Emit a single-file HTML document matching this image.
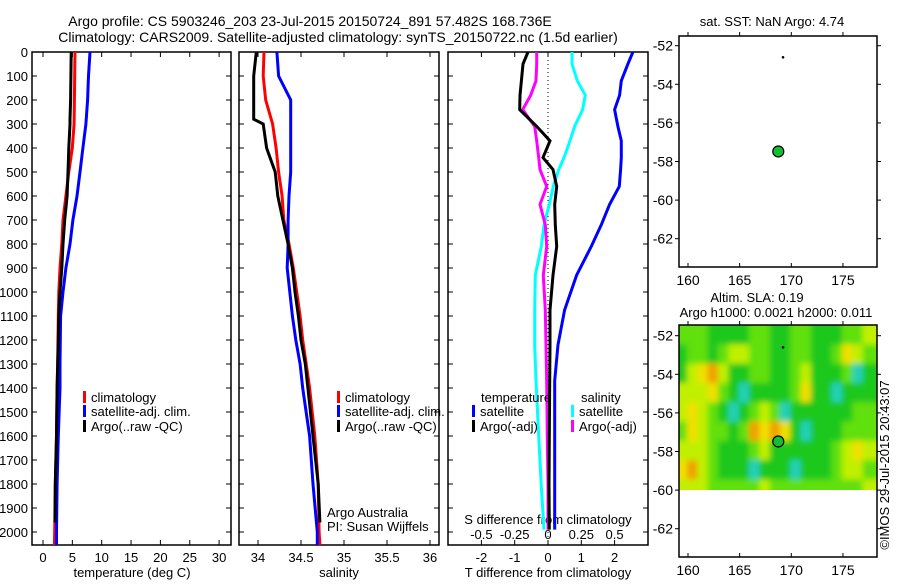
<!DOCTYPE html>
<html><head><meta charset="utf-8"><style>
body{margin:0;background:#fff;width:900px;height:580px;overflow:hidden}
svg{font-family:"Liberation Sans",sans-serif;font-size:13px}
</style></head><body>
<svg id="c" width="900" height="580" viewBox="0 0 900 580">
<defs>
<clipPath id="hmclip"><rect x="679" y="325" width="198" height="165"/></clipPath>
<filter id="blur" x="-10%" y="-10%" width="120%" height="120%"><feGaussianBlur stdDeviation="3"/></filter>
</defs>
<text x="310" y="26" text-anchor="middle" font-size="14">Argo profile: CS 5903246_203 23-Jul-2015 20150724_891 57.482S 168.736E</text>
<text x="338" y="42" text-anchor="middle" font-size="14">Climatology: CARS2009. Satellite-adjusted climatology: synTS_20150722.nc (1.5d earlier)</text>
<g id="g"></g>
<text x="772" y="26" text-anchor="middle" font-size="13">sat. SST: NaN Argo: 4.74</text>
<text x="757" y="302" text-anchor="middle" font-size="13">Altim. SLA: 0.19</text>
<text x="776" y="317" text-anchor="middle" font-size="13">Argo h1000: 0.0021 h2000: 0.011</text>
<text transform="translate(889,465) rotate(-90)" text-anchor="middle" font-size="13">©IMOS 29-Jul-2015 20:43:07</text>
</svg>
<script>
// ---------- data ----------
const depthT=[0,100,200,300,400,500,600,700,800,900,1000,1100,1200,1300,1400,1600,1800,2000,2054];
const tempClim=[5.45,5.4,5.35,5.3,5.0,4.4,3.9,3.4,3.2,2.9,2.7,2.6,2.55,2.5,2.4,2.3,2.1,2.0,1.95];
const tempSat=[8.0,7.75,7.6,7.3,6.8,6.3,5.8,5.1,4.6,3.9,3.4,3.0,2.95,2.9,2.9,2.6,2.4,2.3,2.3];
const depthArgo=[0,100,200,280,300,400,500,600,700,800,900,1000,1100,1200,1300,1400,1600,1800,1960];
const tempArgo=[4.8,4.75,4.7,4.6,4.6,4.4,4.26,4.1,3.7,3.4,3.2,2.9,2.7,2.6,2.5,2.4,2.3,2.1,2.05];
const salClim=[34.07,34.06,34.09,34.17,34.21,34.24,34.28,34.3,34.36,34.41,34.45,34.49,34.52,34.56,34.6,34.66,34.7,34.71,34.72];
const salSat=[34.22,34.24,34.38,34.38,34.38,34.38,34.36,34.35,34.35,34.34,34.37,34.4,34.44,34.49,34.52,34.6,34.64,34.69,34.69];
const salArgo=[33.98,33.95,33.95,33.95,34.06,34.1,34.2,34.23,34.29,34.35,34.4,34.43,34.47,34.5,34.55,34.58,34.64,34.7,34.72];
const depthD=[0,50,120,180,240,310,370,440,490,560,635,720,810,930,1075,1220,1370,1600,1810,1990];
const dTsat=[2.55,2.4,2.2,2.15,2.0,2.1,2.2,2.2,2.18,2.14,1.85,1.6,1.3,0.86,0.5,0.3,0.2,0.2,0.2,0.2];
const dTargo=[-0.6,-0.75,-0.8,-0.84,-0.85,-0.34,0.06,-0.15,0.15,0.26,0.2,0.22,0.26,0.15,0.06,0.06,0.05,0.04,0.03,0.04];
const dSsat=[0.18,0.18,0.22,0.28,0.26,0.2,0.165,0.12,0.08,0.04,0.01,-0.03,-0.05,-0.095,-0.1,-0.1,-0.09,-0.07,-0.05,-0.03];
const dSargo=[-0.085,-0.085,-0.09,-0.13,-0.19,-0.1,-0.085,-0.07,-0.06,-0.01,-0.06,-0.02,-0.01,-0.035,-0.02,-0.015,-0.01,-0.005,0,0];
const depthTicks=[0,100,200,300,400,500,600,700,800,900,1000,1100,1200,1300,1400,1500,1600,1700,1800,1900,2000];
const tempTicks=[0,5,10,15,20,25,30];
const salTicks=[34,34.5,35,35.5,36];
const dTTicks=[-2,-1,0,1,2];
const dSTicks=[-0.5,-0.25,0,0.25,0.5];
const dSLabels=["-0.5","-0.25","0","0.25","0.5"];
const lonTicks=[160,165,170,175];
const latTicks=[-52,-54,-56,-58,-60,-62];
const argoLon=168.74, argoLat=-57.48;
const ptLon=169.2, ptLat=-52.6;
// SLA heat-map categories, rows lat -51.5.. (1 deg), cols lon 159..177
const hmLonStart=159, hmLatStart=-51.5;
const slaGrid=[
[2,2,2,1,1,1,1,2,2,1,1,2,2,1,1,1,2,2,3],
[1,2,2,1,2,3,3,2,2,1,1,2,2,1,1,2,4,3,2],
[1,3,4,5,3,1,1,2,2,1,1,2,3,1,1,1,2,0,1],
[3,3,3,4,2,1,0,1,1,1,1,2,4,1,1,0,1,1,1],
[3,4,3,2,1,0,1,2,3,2,0,1,1,1,1,1,1,2,2],
[2,4,3,2,2,1,2,5,4,5,4,1,0,1,1,1,2,2,2],
[3,3,3,2,1,1,1,2,3,1,1,1,1,1,1,2,3,4,3],
[4,5,3,2,1,1,1,0,1,1,1,0,1,1,1,2,3,3,2],
[3,3,3,2,2,2,2,2,3,2,2,2,2,2,2,2,2,2,3]];
const slaColors=["#20d0b8","#1cc81c","#60e010","#c0f000","#f0e000","#f0a000"];

// ---------- helpers ----------
const NS="http://www.w3.org/2000/svg";
const G=document.getElementById('g');
function mk(tag,attrs,parent){const e=document.createElementNS(NS,tag);for(const k in attrs)e.setAttribute(k,attrs[k]);(parent||G).appendChild(e);return e;}
const Y0=52, YB=545;
const yD=d=>Y0+0.24*d;
const xTemp=t=>43+5.87*t;
const xSal=s=>258+86*(s-34);
const xDT=d=>548+33.3*d;
const xDS=s=>548+133.2*s;
const xLon=l=>688+10.33*(l-160);
const yLat1=l=>45.7+19.3*(-52-l);
const yLat2=l=>yLat1(l)+290;

function box(x0,x1,y0,y1,name){
  const r=mk('rect',{x:x0,y:y0,width:x1-x0,height:y1-y0,fill:'none',stroke:'#000','stroke-width':1.5});
  
  
}
function line(xs,ys,color,name){
  const pts=xs.map((x,i)=>x.toFixed(1)+','+ys[i].toFixed(1)).join(' ');
  const p=mk('polyline',{points:pts,fill:'none',stroke:color,'stroke-width':3,'stroke-linejoin':'miter'});
  
  
}
function txt(x,y,s,anchor,name,size){
  const t=mk('text',{x:x,y:y,'text-anchor':anchor||'start','font-size':size||13});
  t.textContent=s;
  
  
  return t;
}
function depthAxis(x0,x1,labels){
  depthTicks.forEach(d=>{
    const y=yD(d);
    mk('line',{x1:x0,y1:y,x2:x0+5,y2:y,stroke:'#000'});
    mk('line',{x1:x1,y1:y,x2:x1-5,y2:y,stroke:'#000'});
    if(labels) txt(28,y+5,String(d),'end','depth-tick-label');
  });
}
function xAxis(ticks,fx,x0,labels,y0,y1,ly){
  ticks.forEach((v,i)=>{
    const x=fx(v);
    mk('line',{x1:x,y1:y0,x2:x,y2:y0+5,stroke:'#000'});
    mk('line',{x1:x,y1:y1,x2:x,y2:y1-5,stroke:'#000'});
    if(labels) txt(x,ly,labels[i],'middle','x-tick-label');
  });
}
function legendEntry(x,y,color,label){
  const m=mk('rect',{x:x,y:y-11,width:3,height:12,fill:color});
  
  
  txt(x+8,y,label,'start','legend-entry');
}

// ---------- panel 1: temperature ----------
box(32,231,Y0,YB,'temperature-panel');
depthAxis(32,231,true);
xAxis(tempTicks,xTemp,0,tempTicks.map(String),Y0,YB,562);
txt(132,577,'temperature (deg C)','middle','x-axis-title-temperature');
line(tempClim.map(xTemp),depthT.map(yD),'#ff0000','temp-climatology-line');
line(tempSat.map(xTemp),depthT.map(yD),'#0000ff','temp-satellite-line');
line(tempArgo.map(xTemp),depthArgo.map(yD),'#000000','temp-argo-line');
legendEntry(83,402,'#ff0000','climatology');
legendEntry(83,416,'#0000ff','satellite-adj. clim.');
legendEntry(83,431,'#000000','Argo(..raw -QC)');

// ---------- panel 2: salinity ----------
box(239,439,Y0,YB,'salinity-panel');
depthAxis(239,439,false);
xAxis(salTicks,xSal,0,salTicks.map(String),Y0,YB,562);
txt(339,577,'salinity','middle','x-axis-title-salinity');
line(salClim.map(xSal),depthT.map(yD),'#ff0000','sal-climatology-line');
line(salSat.map(xSal),depthT.map(yD),'#0000ff','sal-satellite-line');
line(salArgo.map(xSal),depthArgo.map(yD),'#000000','sal-argo-line');
legendEntry(337,402,'#ff0000','climatology');
legendEntry(337,416,'#0000ff','satellite-adj. clim.');
legendEntry(337,431,'#000000','Argo(..raw -QC)');
txt(327,517,'Argo Australia','start','argo-australia-label');
txt(327,531,'PI: Susan Wijffels','start','pi-label');

// ---------- panel 3: differences ----------
box(448,648,Y0,YB,'difference-panel');
depthAxis(448,648,false);
xAxis(dTTicks,xDT,0,dTTicks.map(String),Y0,YB,562);
txt(548,577,'T difference from climatology','middle','x-axis-title-t-diff');
txt(548,524,'S difference from climatology','middle','s-axis-title');
dSTicks.forEach((v,i)=>txt(xDS(v),539,dSLabels[i],'middle','s-tick-label'));
const zl=mk('line',{x1:xDT(0),y1:Y0,x2:xDT(0),y2:YB,stroke:'#000','stroke-dasharray':'1,3'});


line(dSsat.map(xDS),depthD.map(yD),'#00ffff','s-diff-satellite-line');
line(dTsat.map(xDT),depthD.map(yD),'#0000ff','t-diff-satellite-line');
line(dSargo.map(xDS),depthD.map(yD),'#ff00ff','s-diff-argo-line');
line(dTargo.map(xDT),depthD.map(yD),'#000000','t-diff-argo-line');
txt(481,402,'temperature','start','legend-temperature-header');
legendEntry(472,416,'#0000ff','satellite');
legendEntry(472,431,'#000000','Argo(-adj)');
txt(581,402,'salinity','start','legend-salinity-header');
legendEntry(571,416,'#00ffff','satellite');
legendEntry(571,431,'#ff00ff','Argo(-adj)');

// ---------- maps ----------
function mapAxes(yLat,top,bot,name){
  box(679,877,top,bot,name);
  lonTicks.forEach(l=>{
    const x=xLon(l);
    mk('line',{x1:x,y1:top,x2:x,y2:top-4,stroke:'#000'});
    mk('line',{x1:x,y1:bot,x2:x,y2:bot-4,stroke:'#000'});
    txt(x,bot+18,String(l),'middle','lon-tick-label',14);
  });
  latTicks.forEach(l=>{
    const y=yLat(l);
    mk('line',{x1:679,y1:y,x2:675,y2:y,stroke:'#000'});
    mk('line',{x1:877,y1:y,x2:881,y2:y,stroke:'#000'});
    txt(673,y+5,String(l),'end','lat-tick-label',14);
  });
}
// heat map (edge cells extended so blur doesn't fade at borders)
const hg=mk('g',{'clip-path':'url(#hmclip)'});
const hb=mk('g',{filter:'url(#blur)'},hg);
const nR=slaGrid.length, nC=slaGrid[0].length;
slaGrid.forEach((row,r)=>row.forEach((v,c)=>{
  let x0=xLon(hmLonStart+c)-1, x1=xLon(hmLonStart+c+1)+1;
  let y0=yLat2(hmLatStart-r)-1, y1=yLat2(hmLatStart-r-1)+1;
  if(c===0) x0-=15;
  if(c===nC-1) x1+=15;
  if(r===0) y0-=15;
  if(r===nR-1) y1+=15;
  const cell=mk('rect',{x:x0,y:y0,width:x1-x0,height:y1-y0,fill:slaColors[v]},hb);
  
  
}));
mapAxes(yLat1,36,267,'sst-map');
mapAxes(yLat2,325,557,'sla-map');
[yLat1,yLat2].forEach((yl,i)=>{
  const d=mk('circle',{cx:xLon(argoLon),cy:yl(argoLat),r:5.5,fill:'#10c030',stroke:'#000','stroke-width':1.2});
  
  
  const p=mk('circle',{cx:xLon(ptLon),cy:yl(ptLat),r:1.3,fill:'#000'});
  
  
});
</script>
</body></html>
